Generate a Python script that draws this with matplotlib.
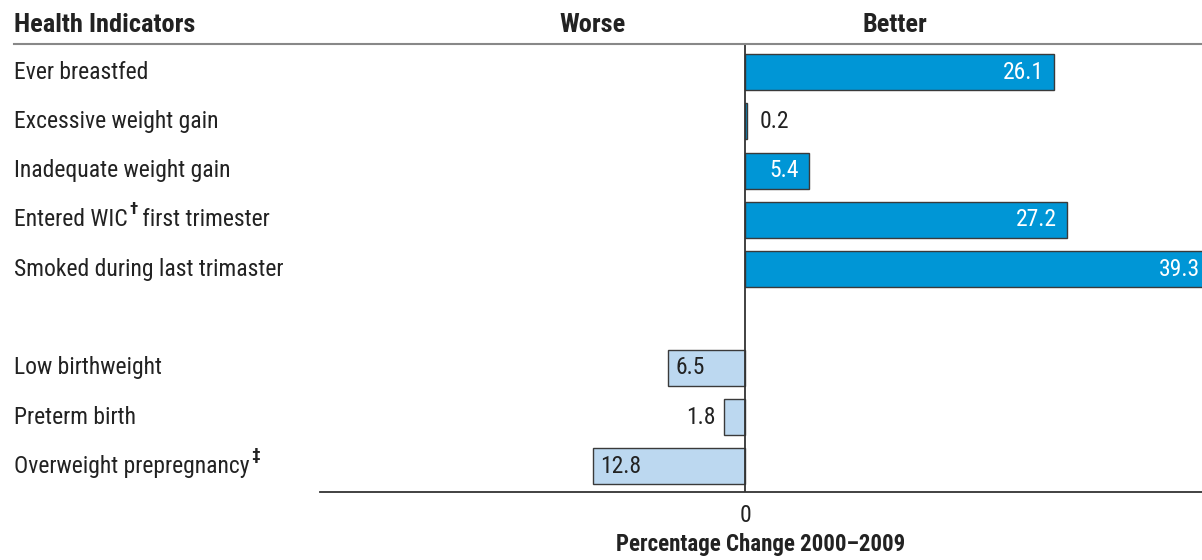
import matplotlib
matplotlib.use('Agg')
import matplotlib.transforms as mtransforms
from matplotlib import pyplot as plt

plt.rcParams['font.family'] = ['Liberation Sans Narrow', 'Roboto Condensed', 'Roboto', 'DejaVu Sans']

# label text split as (before, superscript, after)
indicators = [
    ('Ever breastfed', '', ''),
    ('Excessive weight gain', '', ''),
    ('Inadequate weight gain', '', ''),
    ('Entered WIC', '\u2020', ' first trimester'),
    ('Smoked during last trimaster', '', ''),
    ('Low birthweight', '', ''),
    ('Preterm birth', '', ''),
    ('Overweight prepregnancy', '\u2021', ''),
]
changes = [26.1, 0.2, 5.4, 27.2, 39.3, -6.5, -1.8, -12.8]
rows = [0, 1, 2, 3, 4, 6, 7, 8]

better_color = '#0096d6'
worse_color = '#bcd8f0'
edge = '#3a3a3a'
ink = '#222222'
fs = 17

fig = plt.figure(figsize=(12.02, 5.6), dpi=100)
ax = fig.add_axes([320 / 1202, 1 - 492 / 560, (1202 - 320) / 1202, 448 / 560])

xmin, xmax = -35.9, 38.6
colors = [better_color if v > 0 else worse_color for v in changes]
ax.barh(rows, changes, height=0.73, color=colors, edgecolor=edge, linewidth=1.0, zorder=2)
ax.axvline(0, color='#333333', lw=1.3, zorder=3)

ax.set_xlim(xmin, xmax)
ax.set_ylim(8.52, -0.57)

for r, v in zip(rows, changes):
    txt = f'{abs(v):.1f}'
    if v > 0:
        if v >= 3:
            ax.text(min(v - 0.85, xmax - 0.15), r, txt, ha='right', va='center',
                    color='white', fontsize=fs)
        else:
            ax.text(v + 1.0, r, txt, ha='left', va='center', color=ink, fontsize=fs)
    else:
        if v <= -3:
            ax.text(v + 0.6, r, txt, ha='left', va='center', color=ink, fontsize=fs)
        else:
            ax.text(v - 0.7, r, txt, ha='right', va='center', color=ink, fontsize=fs)

for side in ['top', 'left', 'right']:
    ax.spines[side].set_visible(False)
ax.spines['bottom'].set_color('#333333')
ax.spines['bottom'].set_linewidth(1.3)
ax.set_yticks([])
ax.set_xticks([0])
ax.set_xticklabels(['0'])
ax.tick_params(axis='x', length=0, pad=9, labelsize=fs, colors=ink)
ax.set_xlabel('Percentage Change 2000\u20132009', fontsize=16.5, fontweight='bold',
              labelpad=4, color=ink)

renderer = fig.canvas.get_renderer()
trans = mtransforms.blended_transform_factory(fig.transFigure, ax.transData)
for r, (before, sup, after) in zip(rows, indicators):
    t = ax.text(14 / 1202, r, before, transform=trans, ha='left', va='center',
                fontsize=fs, color=ink)
    if sup:
        bb = t.get_window_extent(renderer)
        st = fig.text(bb.x1 / 1202 + 0.001, bb.y1 / 560 + 0.012, sup, ha='left', va='top',
                      fontsize=12.5, fontweight='bold', color=ink)
        if after:
            sb = st.get_window_extent(renderer)
            fig.text(sb.x1 / 1202, bb.y0 / 560, after, ha='left', va='bottom',
                     fontsize=fs, color=ink)

fig.add_artist(plt.Line2D([14 / 1202, 1], [1 - 44 / 560] * 2, color='#888888', lw=1.5))
fig.text(14 / 1202, 1 - 25 / 560, 'Health Indicators', ha='left', va='center',
         fontsize=19, fontweight='bold', color=ink)
fig.text(593 / 1202, 1 - 25 / 560, 'Worse', ha='center', va='center',
         fontsize=19, fontweight='bold', color=ink)
fig.text(895 / 1202, 1 - 25 / 560, 'Better', ha='center', va='center',
         fontsize=19, fontweight='bold', color=ink)

plt.savefig('out.png', dpi=100)
